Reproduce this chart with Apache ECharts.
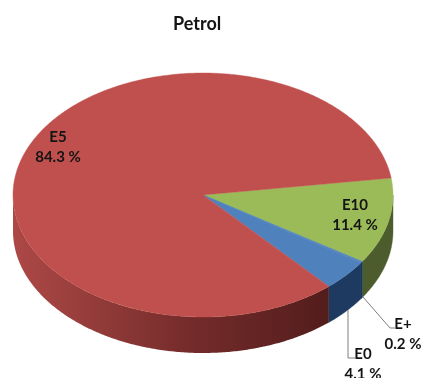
<!DOCTYPE html>
<html>
<head>
<meta charset="utf-8">
<style>html,body{margin:0;padding:0;background:#fff}#c{width:422px;height:378px}</style>
<script src="https://cdn.jsdelivr.net/npm/echarts@6/dist/echarts.min.js"></script>
</head>
<body>
<div id="c"></div>
<script>
const titleText = 'Petrol';
const categories = ['E10', 'E+', 'E0', 'E5'];
const values = [11.4, 0.2, 4.1, 84.3];
const valueLabels = ['11.4 %', '0.2 %', '4.1 %', '84.3 %'];
const topColors = ['#9bbb59', '#4f81bd', '#4f81bd', '#c0504d'];
const sideColors = ['#4d5c2c', '#17375e', '#1f3a60', null];

const CX = 203, CY = 195, RX = 190, RY = 122, DEPTH = 36;
const START = 8 * Math.PI / 180;           // radians above the horizontal, going clockwise
const labelSpots = [[355, 215], [403, 334], [363, 364], [58, 147]];
const leaders = [null, [[363, 297], [390, 328], [395, 328]], [[348, 310], [348, 358], [355, 358]], null];
const total = values.reduce((a, b) => a + b, 0);

function pt(a, dz) {
  return [CX + RX * Math.cos(a), CY - RY * Math.sin(a) + (dz || 0)];
}
function arcPts(a0, a1, dz) {
  const n = Math.max(2, Math.ceil(Math.abs(a1 - a0) / 0.01));
  const out = [];
  for (let i = 0; i <= n; i++) out.push(pt(a0 + (a1 - a0) * i / n, dz));
  return out;
}
function sideGradient() {
  return new echarts.graphic.LinearGradient(0, 0, 1, 0, [
    { offset: 0, color: '#ad4846' },
    { offset: 0.2, color: '#993f3d' },
    { offset: 0.55, color: '#752c2b' },
    { offset: 1, color: '#521d1c' }
  ]);
}
function renderItem(params, api) {
  const i = params.dataIndex;
  let before = 0;
  for (let k = 0; k < i; k++) before += values[k];
  const a0 = START - before / total * 2 * Math.PI;
  const a1 = a0 - api.value(1) / total * 2 * Math.PI;
  const children = [];

  // side wall: only the part on the front half (angles between 0 and -PI)
  const s0 = Math.min(a0, 0), s1 = Math.max(a1, -Math.PI);
  if (s0 > s1) {
    const points = arcPts(s0, s1, 0).concat(arcPts(s1, s0, DEPTH));
    const c = sideColors[i] || sideGradient();
    children.push({
      type: 'polygon',
      shape: { points },
      style: { fill: c, stroke: sideColors[i] || null, lineWidth: sideColors[i] ? 0.4 : 0 }
    });
  }
  // top face
  children.push({
    type: 'polygon',
    shape: { points: [[CX, CY]].concat(arcPts(a0, a1, 0)) },
    style: { fill: topColors[i], stroke: topColors[i], lineWidth: 0.4 }
  });
  return { type: 'group', children };
}
function renderLabel(params, api) {
  const i = params.dataIndex;
  const children = [];
  if (leaders[i]) {
    children.push({
      type: 'polyline',
      shape: { points: leaders[i] },
      style: { fill: 'none', stroke: '#7f7f7f', lineWidth: 1 }
    });
  }
  children.push({
    type: 'text',
    x: labelSpots[i][0],
    y: labelSpots[i][1],
    style: {
      text: categories[i] + '\n' + valueLabels[i],
      fill: '#141414',
      font: 'bold 15px Lato, "Open Sans", sans-serif',
      lineHeight: 20,
      align: 'center',
      verticalAlign: 'middle'
    }
  });
  return { type: 'group', children };
}

const seriesData = categories.map((c, i) => ({ name: c, value: [i, values[i]] }));
const chart = echarts.init(document.getElementById('c'), null, { renderer: 'canvas' });
chart.setOption({
  animation: false,
  backgroundColor: '#ffffff',
  title: {
    text: titleText, left: 168, top: 10,
    textStyle: { fontFamily: 'Lato, "Open Sans", sans-serif', fontSize: 18, fontWeight: 'bold', color: '#141414' }
  },
  series: [
    { type: 'custom', coordinateSystem: 'none', renderItem, data: seriesData, z: 1, silent: true },
    { type: 'custom', coordinateSystem: 'none', renderItem: renderLabel, data: seriesData, z: 2, silent: true }
  ]
});
</script>
</body>
</html>
